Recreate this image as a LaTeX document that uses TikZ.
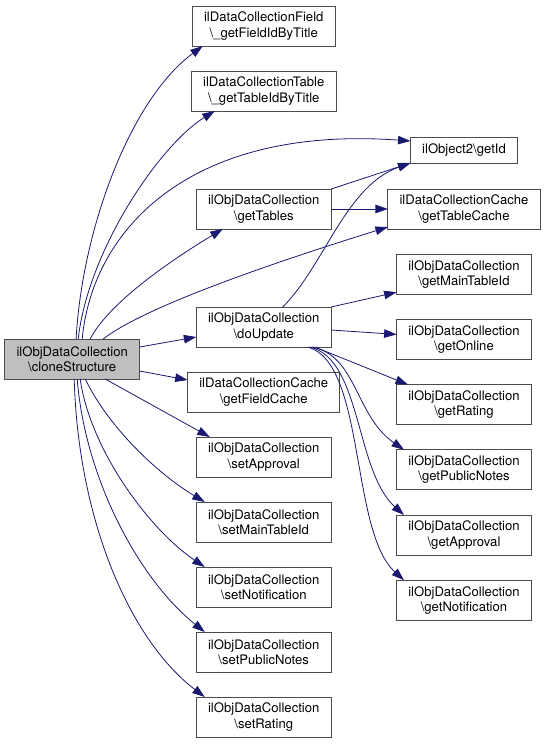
\documentclass[tikz,border=0pt]{standalone}
\usepackage{fontspec}
\setmainfont{TeX Gyre Heros}
\usepackage{tikz}
\usetikzlibrary{arrows.meta,positioning}
\definecolor{midnight}{RGB}{25,25,112}
\tikzstyle{fn}=[draw=black!70,line width=0.8pt,fill=white,align=center,minimum height=40pt,inner xsep=11.7pt,inner ysep=0pt,outer sep=0pt,font=\fontsize{13.1}{15.3}\selectfont]
\tikzstyle{root}=[fn,fill=black!25]
\tikzstyle{link}=[draw=midnight,line width=0.8pt,>={Triangle[length=12.5pt,width=8.5pt]},->]

\begin{document}
\begin{tikzpicture}[x=1pt,y=-1pt]
  \useasboundingbox (0,0) rectangle (545,744);

  \node[root] (clone) at (72.2,359) {ilObjDataCollection\\\textbackslash cloneStructure};

  \node[fn] (fieldid) at (263.75,26) {ilDataCollectionField\\\textbackslash\_getFieldIdByTitle};
  \node[fn] (tableid) [below=25pt of fieldid] {ilDataCollectionTable\\\textbackslash\_getTableIdByTitle};
  \node[fn] (gettables) [below=78pt of tableid] {ilObjDataCollection\\\textbackslash getTables};
  \node[fn] (doupdate) [below=78pt of gettables] {ilObjDataCollection\\\textbackslash doUpdate};
  \node[fn] (getfieldcache) [below=25pt of doupdate] {ilDataCollectionCache\\\textbackslash getFieldCache};
  \node[fn] (setapproval) [below=25pt of getfieldcache] {ilObjDataCollection\\\textbackslash setApproval};
  \node[fn] (setmaintableid) [below=25pt of setapproval] {ilObjDataCollection\\\textbackslash setMainTableId};
  \node[fn] (setnotification) [below=25pt of setmaintableid] {ilObjDataCollection\\\textbackslash setNotification};
  \node[fn] (setpublicnotes) [below=25pt of setnotification] {ilObjDataCollection\\\textbackslash setPublicNotes};
  \node[fn] (setrating) [below=25pt of setpublicnotes] {ilObjDataCollection\\\textbackslash setRating};

  \node[fn,minimum height=26pt] (getid) at (464,150) {ilObject2\textbackslash getId};
  \node[fn] (gettablecache) [below=26pt of getid] {ilDataCollectionCache\\\textbackslash getTableCache};
  \node[fn] (getmaintableid) [below=25.2pt of gettablecache] {ilObjDataCollection\\\textbackslash getMainTableId};
  \node[fn] (getonline) [below=25.2pt of getmaintableid] {ilObjDataCollection\\\textbackslash getOnline};
  \node[fn] (getrating) [below=25.2pt of getonline] {ilObjDataCollection\\\textbackslash getRating};
  \node[fn] (getpublicnotes) [below=25.2pt of getrating] {ilObjDataCollection\\\textbackslash getPublicNotes};
  \node[fn] (getapproval) [below=25.2pt of getpublicnotes] {ilObjDataCollection\\\textbackslash getApproval};
  \node[fn] (getnotification) [below=25.2pt of getapproval] {ilObjDataCollection\\\textbackslash getNotification};

  % calls made by cloneStructure
  \draw[link] (clone.79) .. controls +(6,-109) and +(-73,54) .. ([xshift=-61pt]fieldid.south);
  \draw[link] ([xshift=6pt]clone.north) .. controls +(10,-89) and +(-55,34) .. ([xshift=-49pt]tableid.south);
  \draw[link] ([xshift=10pt]clone.north) .. controls +(10,-109) and +(-221,-16) .. ([yshift=9pt]getid.west);
  \draw[link] ([xshift=18pt]clone.north) .. controls +(20,-39) and +(-43,26) .. ([xshift=-41pt]gettables.south);
  \draw[link] ([xshift=31pt]clone.north) .. controls +(37,-29) and +(-138,43) .. ([yshift=-18pt]gettablecache.west);
  \draw[link] ([yshift=12pt]clone.east) -- ([yshift=-10pt]doupdate.west);
  \draw[link] ([yshift=-12pt]clone.east) -- ([yshift=12pt]getfieldcache.west);
  \draw[link] ([xshift=33pt]clone.south) -- ([xshift=-54pt]setapproval.north);
  \draw[link] ([xshift=13pt]clone.south) .. controls +(25,51) and +(-45,-27) .. ([xshift=-59pt]setmaintableid.north);
  \draw[link] ([xshift=8pt]clone.south) .. controls +(10,71) and +(-55,-37) .. ([xshift=-59pt]setnotification.north);
  \draw[link] ([xshift=5pt]clone.south) .. controls +(8,101) and +(-65,-52) .. ([xshift=-59pt]setpublicnotes.north);
  \draw[link] ([xshift=2pt]clone.south) .. controls +(4,141) and +(-75,-57) .. ([xshift=-59pt]setrating.north);

  % calls made by getTables
  \draw[link] (gettables.north east) -- (getid.south west);
  \draw[link] (gettables) -- (gettablecache);

  % calls made by doUpdate
  \draw[link] ([xshift=19pt]doupdate.north) .. controls +(42,-42) and +(-65,23) .. (getid.south west);
  \draw[link] (doupdate.north east) -- ([yshift=-18pt]getmaintableid.west);
  \draw[link] ([yshift=-3pt]doupdate.east) -- ([yshift=5pt]getonline.west);
  \draw[link] ([xshift=51pt]doupdate.south) -- ([xshift=-56pt]getrating.north);
  \draw[link] ([xshift=48pt]doupdate.south) .. controls +(45,8) and +(-49,-34) .. ([xshift=-60pt]getpublicnotes.north);
  \draw[link] ([xshift=46pt]doupdate.south) .. controls +(52,12) and +(-49,-44) .. ([xshift=-60pt]getapproval.north);
  \draw[link] ([xshift=44pt]doupdate.south) .. controls +(58,16) and +(-54,-49) .. ([xshift=-60pt]getnotification.north);
\end{tikzpicture}
\end{document}
